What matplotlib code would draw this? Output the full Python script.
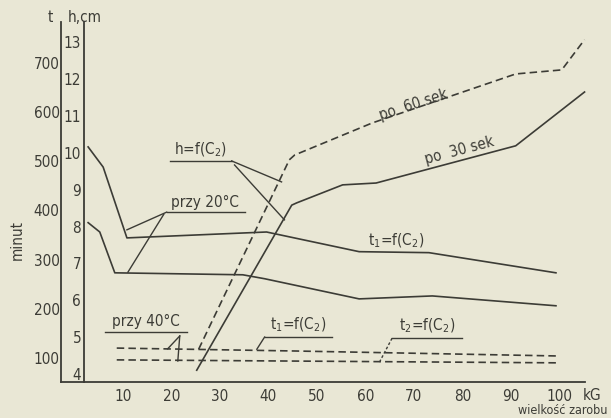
import matplotlib
matplotlib.use('Agg')
import matplotlib.pyplot as plt

# wielkosc zarobu, kG  /  czas t, minut  /  wysokosc h, cm
x_t1_20 = [2.8, 5.9, 10.8, 39.6, 58.7, 73.1, 99.3]
t1_20 = [529, 488, 344, 356, 316, 314, 273]
x_t2_20 = [2.8, 5.2, 8.3, 34.7, 39.2, 58.7, 73.8, 99.3]
t2_20 = [375, 356, 273, 269, 261, 220, 226, 206]
x_t1_40 = [8.7, 45.8, 99.3]
t1_40 = [120, 114, 104]
x_t2_40 = [8.7, 99.3]
t2_40 = [96, 90]
x_h60 = [25.6, 44.3, 45.4, 61.4, 91.0, 100.5, 105.2]
h60 = [4.67, 9.81, 9.94, 10.81, 12.14, 12.25, 13.07]
x_h30 = [25.2, 44.8, 45.8, 55.3, 62.2, 91.0, 105.2]
h30 = [4.10, 8.58, 8.64, 9.13, 9.18, 10.19, 11.65]

x_ticks = [10, 20, 30, 40, 50, 60, 70, 80, 90, 100]
h_ticks = [4, 5, 6, 7, 8, 9, 10, 11, 12, 13]
t_ticks = [100, 200, 300, 400, 500, 600, 700]

bg = '#e9e7d5'
ink = '#3c3c36'
plt.rcParams['font.family'] = 'DejaVu Sans'
plt.rcParams['font.stretch'] = 'condensed'
plt.rcParams['text.color'] = ink

fig = plt.figure(figsize=(6.11, 4.18), dpi=100, facecolor=bg)
ax = fig.add_axes([0.1375, 0.0861, 0.82, 0.8613])
ax.set_facecolor(bg)
ax.set_xlim(1.95, 105.3)
ax.set_ylim(3.78, 13.55)

ax2 = ax.twinx()
ax2.set_ylim(51, 783)

for s in ['top', 'right']:
    ax.spines[s].set_visible(False)
for s in ['top', 'right', 'bottom']:
    ax2.spines[s].set_visible(False)
ax2.spines['left'].set_visible(True)
ax2.spines['left'].set_position(('outward', 16.5))
ax2.yaxis.tick_left()
for sp in [ax.spines['left'], ax.spines['bottom'], ax2.spines['left']]:
    sp.set_color(ink)
    sp.set_linewidth(1.3)

ax.set_xticks(x_ticks)
ax.set_xticklabels([str(v) for v in x_ticks])
ax.set_yticks(h_ticks)
ax2.set_yticks(t_ticks)
ax.tick_params(axis='x', length=0, pad=5, labelsize=11, colors=ink)
ax.tick_params(axis='y', length=0, pad=2, labelsize=11, colors=ink)
ax2.tick_params(axis='y', length=0, pad=1, labelsize=11, colors=ink)

lw = 1.2
dash = (0, (4.5, 2.5))
ax2.plot(x_t1_20, t1_20, color=ink, lw=lw)
ax2.plot(x_t2_20, t2_20, color=ink, lw=lw)
ax2.plot(x_t1_40, t1_40, color=ink, lw=lw, linestyle=dash)
ax2.plot(x_t2_40, t2_40, color=ink, lw=lw, linestyle=dash)
ax.plot(x_h60, h60, color=ink, lw=lw, linestyle=dash, clip_on=False)
ax.plot(x_h30, h30, color=ink, lw=lw, clip_on=False)

# opisy krzywych
fs = 11
ax.text(26.0, 10.08, 'h=f(C$_2$)', ha='center', va='center', fontsize=fs)
ax.plot([19.7, 32.4], [9.78, 9.78], color=ink, lw=1)
ax.plot([32.4, 42.7], [9.78, 9.21], color=ink, lw=1)
ax.plot([33.0, 43.3], [9.67, 8.18], color=ink, lw=1)

ax.text(26.8, 8.64, 'przy 20°C', ha='center', va='center', fontsize=fs)
ax.plot([19.0, 35.1], [8.39, 8.39], color=ink, lw=1)
ax.plot([19.0, 10.8], [8.39, 7.91], color=ink, lw=1)
ax.plot([18.4, 11.0], [8.33, 6.76], color=ink, lw=1)

ax.text(66.4, 7.6, 't$_1$=f(C$_2$)', ha='center', va='center', fontsize=fs)

ax.text(14.7, 5.42, 'przy 40°C', ha='center', va='center', fontsize=fs)
ax.plot([6.3, 23.1], [5.13, 5.13], color=ink, lw=1)
ax.plot([21.7, 19.2], [5.03, 4.68], color=ink, lw=1)
ax.plot([21.7, 21.3], [5.03, 4.35], color=ink, lw=1)

ax.text(46.2, 5.32, 't$_1$=f(C$_2$)', ha='center', va='center', fontsize=fs)
ax.plot([39.2, 53.2], [5.0, 5.0], color=ink, lw=1)
ax.plot([39.2, 37.6], [5.0, 4.67], color=ink, lw=1)

ax.text(72.7, 5.3, 't$_2$=f(C$_2$)', ha='center', va='center', fontsize=fs)
ax.plot([65.5, 79.9], [4.97, 4.97], color=ink, lw=1)
ax.plot([65.5, 62.9], [4.97, 4.32], color=ink, lw=1, linestyle=(0, (2, 1.5)))

ax.text(70.0, 11.3, 'po  60 sek', ha='center', va='center', fontsize=fs, rotation=18)
ax.text(79.3, 10.05, 'po  30 sek', ha='center', va='center', fontsize=fs, rotation=15)

# opisy osi
fig.text(50 / 611, 1 - 17 / 418, 't', ha='center', va='center', fontsize=fs)
fig.text(68 / 611, 1 - 17 / 418, 'h,cm', ha='left', va='center', fontsize=fs)
fig.text(17 / 611, 1 - 240 / 418, 'minut', ha='center', va='center', fontsize=fs, rotation=90)
fig.text(592 / 611, 1 - 395 / 418, 'kG', ha='center', va='center', fontsize=fs)
fig.text(608 / 611, 1 - 410 / 418, 'wielkość zarobu', ha='right', va='center', fontsize=9)
fig.add_artist(plt.Line2D([61 / 611, 84 / 611], [1 - 382 / 418, 1 - 382 / 418], color=ink, lw=1.3))

fig.savefig('out.png', dpi=100, facecolor=bg)
